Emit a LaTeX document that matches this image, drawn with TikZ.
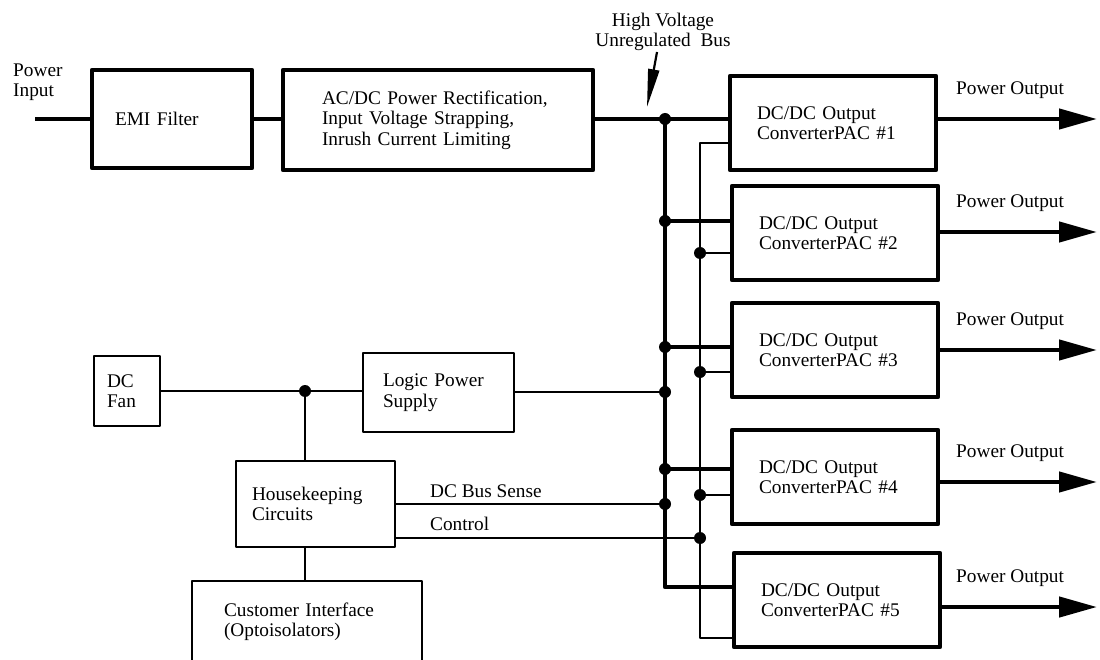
\documentclass[tikz,border=0pt]{standalone}
\usepackage{fontspec}
\setmainfont{Liberation Serif}
\usetikzlibrary{
    arrows.meta,
    positioning
}

\begin{document}
\begin{tikzpicture}[
    x=1pt, y=-1pt,
    font=\fontsize{19.3}{20.5}\selectfont,
    bus/.style={line width=4.5pt, line join=round},
    sig/.style={line width=2.2pt, line join=round},
    blk/.style={draw, line width=4.5pt, line join=round, align=left, inner ysep=0pt},
    lgt/.style={draw, line width=2.2pt, line join=round, align=left, inner ysep=0pt},
    txt/.style={inner sep=0pt, align=left, anchor=west},
    outarrow/.style={line width=4.5pt, -{Triangle[length=38pt,width=20pt]}}
]
    \def\dotr{6pt}
    \useasboundingbox (0,0) rectangle (1100,660);

    % power path
    \node[txt]                                                            (pinlbl) at (13,82)    {Power\\Input};
    \node[blk, text width=114pt, inner xsep=23pt, minimum height=98pt]  (emi)    at (172,119)  {EMI Filter};
    \node[blk, text width=232pt, inner xsep=39pt, minimum height=100pt] (acdc)   at (438,120)  {AC/DC Power Rectification,\\Input Voltage Strapping,\\Inrush Current Limiting};
    \node[align=center, inner sep=0pt]                                    (hv)     at (663,32)   {High Voltage\\Unregulated~ Bus};

    \foreach \i/\cx/\cy in {1/833/123, 2/835/233, 3/835/350, 4/835/477, 5/837/600}
        \node[blk, text width=152pt, inner xsep=27pt, minimum height=94pt] (conv\i) at (\cx,\cy) {DC/DC Output\\ConverterPAC \#\i};

    \coordinate (pin)    at (35,119);
    \coordinate (j1)     at (665,119);
    \coordinate (busend) at (665,587);
    \coordinate (tb)     at (700,143);
    \coordinate (tbend)  at (700,638);
    \coordinate (hvtail) at (657,52);
    \coordinate (hvtip)  at (647,107);

    \draw[bus] (pin) -- (emi.west);
    \draw[bus] (emi.east) -- (acdc.west |- emi.east);
    \draw[bus] (acdc.east |- j1) -- (conv1.west |- j1);
    \draw[bus] (j1) -- (busend) -- (conv5.west |- busend);
    \draw[sig] (conv1.west |- tb) -- (tb) -- (tbend) -- (conv5.west |- tbend);
    \draw[sig, -{Triangle[length=38pt,width=11pt]}] (hvtail) -- (hvtip);
    \fill (j1) circle (\dotr);

    \foreach \i/\ty/\sy in {2/221/253, 3/347/372, 4/469/495} {
        \coordinate (t\i) at (665,\ty);
        \coordinate (s\i) at (700,\sy);
        \draw[bus] (t\i) -- (conv\i.west |- t\i);
        \draw[sig] (s\i) -- (conv\i.west |- s\i);
        \fill (t\i) circle (\dotr) (s\i) circle (\dotr);
    }

    \foreach \i/\ay in {1/119, 2/232, 3/350, 4/482, 5/607} {
        \coordinate (out\i) at (1097,\ay);
        \draw[outarrow] (conv\i.east |- out\i) -- (out\i);
        \node[txt] (pout\i) at (956,\ay-29) {Power Output};
    }

    % housekeeping side
    \node[lgt, text width=40pt,  inner xsep=13pt, minimum height=70pt] (fan)   at (127,391)    {DC\\Fan};
    \node[lgt, text width=111pt, inner xsep=20pt, minimum height=79pt] (logic) at (438.5,392.5) {Logic Power\\Supply};
    \node[lgt, text width=127pt, inner xsep=16pt, minimum height=86pt] (hk)    at (315.5,504)  {Housekeeping\\Circuits};
    \node[lgt, text width=166pt, inner xsep=32pt, minimum height=82pt] (cust)  at (307,622)    {Customer Interface\\(Optoisolators)};
    \node[txt] (sense) at (430,491) {DC Bus Sense};
    \node[txt] (ctrl)  at (430,524) {Control};

    \coordinate (jf) at (305,391);
    \coordinate (jl) at (665,392);
    \coordinate (jd) at (665,504);
    \coordinate (jc) at (700,538);

    \draw[sig] (fan.east |- jf) -- (logic.west |- jf);
    \draw[sig] (jf) -- (jf |- hk.north);
    \draw[sig] (jf |- hk.south) -- (jf |- cust.north);
    \draw[sig] (logic.east |- jl) -- (jl);
    \draw[sig] (hk.east |- jd) -- (jd);
    \draw[sig] (hk.east |- jc) -- (jc);
    \fill (jf) circle (\dotr) (jl) circle (\dotr) (jd) circle (\dotr) (jc) circle (\dotr);
\end{tikzpicture}
\end{document}
